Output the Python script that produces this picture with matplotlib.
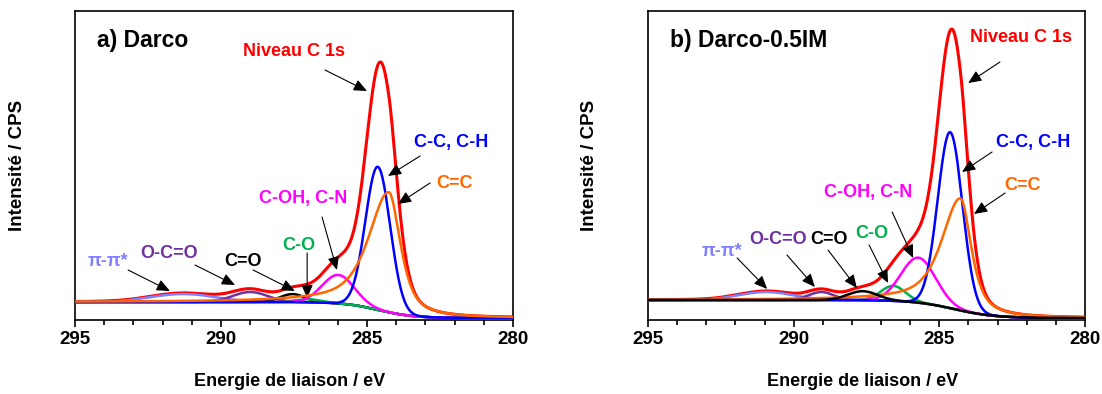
import numpy as np
import matplotlib
matplotlib.use('Agg')
import matplotlib.pyplot as plt
from matplotlib.ticker import MultipleLocator

plt.rcParams['font.family'] = ['Liberation Sans', 'DejaVu Sans']
plt.rcParams['font.weight'] = 'bold'

# component names / colours, same order for both panels
names = ['π-π*', 'O-C=O', 'C=O', 'C-O', 'C-OH, C-N', 'C-C, C-H', 'C=C']
colors = ['#7F7FFF', '#7030A0', 'black', '#00B050', '#FF00FF', '#0000FF', '#FF6600']

# a) Darco : peak parameters (BE in eV, height in CPS a.u.)
a_center = [291.3, 289.0, 287.55, 287.0, 285.98, 284.63, 284.25]
a_height = [8, 10, 8, 3, 28.5, 143, 120]
a_fwhm_hi = [2.6, 1.4, 1.0, 1.0, 1.3, 1.0, 1.64]   # high-BE side
a_fwhm_lo = [2.6, 1.4, 1.0, 1.0, 1.3, 1.0, 0.94]   # low-BE side
a_eta = [0, 0, 0, 0, 0, 0, 0.7]
a_bg = [18, 2, 284.6, 0.6]   # high, low, step centre, step width

# b) Darco-0.5IM
b_center = [290.95, 289.05, 287.63, 286.58, 285.72, 284.63, 284.27]
b_height = [8, 8, 9, 15, 45, 176, 112]
b_fwhm_hi = [2.2, 1.0, 1.2, 1.0, 1.4, 1.0, 1.54]
b_fwhm_lo = [2.2, 1.0, 1.2, 1.0, 1.4, 1.0, 0.86]
b_eta = [0, 0, 0, 0, 0, 0, 0.7]
b_bg = [20, 2, 284.5, 0.7]

x = np.linspace(280, 295, 1501)


def peak(x, c, h, whi, wlo, eta):
    hw = np.where(x >= c, whi / 2, wlo / 2)
    u = (x - c) / hw
    return h * (eta / (1 + u ** 2) + (1 - eta) * np.exp(-np.log(2) * u ** 2))


def step(x, bg):
    hi, lo, x0, w = bg
    return lo + (hi - lo) / (1 + np.exp(-(x - x0) / w))


def arrow(ax, tail, tip):
    ax.annotate('', xy=tip, xytext=tail,
                arrowprops=dict(arrowstyle='-|>,head_length=0.8,head_width=0.35',
                                color='black', lw=0.8, shrinkA=0, shrinkB=0,
                                mutation_scale=10))


fig = plt.figure(figsize=(11.02, 3.94), dpi=100)
ax1 = fig.add_axes([75 / 1102, 74 / 394, 438 / 1102, 309 / 394])
ax2 = fig.add_axes([648 / 1102, 74 / 394, 437 / 1102, 309 / 394])

panels = [
    (ax1, a_center, a_height, a_fwhm_hi, a_fwhm_lo, a_eta, a_bg, 'a) Darco', 'orange_last', -0.112),
    (ax2, b_center, b_height, b_fwhm_hi, b_fwhm_lo, b_eta, b_bg, 'b) Darco-0.5IM', 'black_last', -0.114),
]

for ax, cen, hgt, whi, wlo, eta, bg, title, order, ylx in panels:
    base = step(x, bg)
    comps = [peak(x, cen[i], hgt[i], whi[i], wlo[i], eta[i]) for i in range(len(cen))]
    envelope = base + np.sum(comps, axis=0)
    ax.plot(x, envelope, color='#FF0000', lw=2.2, zorder=2)
    idx = list(range(len(cen)))
    if order == 'black_last':
        idx.remove(2)
        idx.append(2)
    for k, i in enumerate(idx):
        ax.plot(x, base + comps[i], color=colors[i], lw=1.8, zorder=3 + k)

    ax.set_xlim(295, 280)
    ax.set_ylim(0, 309)
    ax.set_yticks([])
    ax.xaxis.set_major_locator(MultipleLocator(5))
    ax.xaxis.set_minor_locator(MultipleLocator(1))
    ax.tick_params(axis='x', which='major', direction='out', length=5, width=1.2,
                   labelsize=13.5, pad=3)
    ax.tick_params(axis='x', which='minor', direction='out', length=3.5, width=1.2)
    for lab in ax.get_xticklabels():
        lab.set_fontweight('bold')
    for s in ax.spines.values():
        s.set_linewidth(1.2)
    ax.set_xlabel('Energie de liaison / eV', fontsize=13, fontweight='bold')
    ax.set_ylabel('Intensité / CPS', fontsize=13.5, fontweight='bold')
    ax.xaxis.set_label_coords(0.49, -0.172)
    ax.yaxis.set_label_coords(ylx, 0.5)
    ax.text(0.05, 0.903, title, transform=ax.transAxes, fontsize=16.5,
            fontweight='bold', va='center', ha='left')

fs = 13
# panel a labels and arrows
ax1.text(287.5, 268, 'Niveau C 1s', color='#FF0000', fontsize=fs, ha='center', va='center')
arrow(ax1, (286.44, 250), (285.0, 229))
ax1.text(282.12, 177, names[5], color=colors[5], fontsize=fs, ha='center', va='center')
arrow(ax1, (283.18, 164), (284.28, 144))
ax1.text(282.02, 137, names[6], color=colors[6], fontsize=fs, ha='center', va='center')
arrow(ax1, (282.84, 137), (283.94, 116))
ax1.text(287.19, 122, names[4], color=colors[4], fontsize=fs, ha='center', va='center')
arrow(ax1, (286.54, 103), (286.03, 50))
ax1.text(287.33, 74, names[3], color=colors[3], fontsize=fs, ha='center', va='center')
arrow(ax1, (287.05, 67), (287.05, 22))
ax1.text(289.25, 59, names[2], color=colors[2], fontsize=fs, ha='center', va='center')
arrow(ax1, (288.90, 50), (287.47, 29))
ax1.text(291.78, 66, names[1], color=colors[1], fontsize=fs, ha='center', va='center')
arrow(ax1, (290.89, 55), (289.52, 35))
ax1.text(293.87, 58, names[0], color=colors[0], fontsize=fs, ha='center', va='center')
arrow(ax1, (293.18, 50), (291.75, 29))

# panel b labels and arrows
ax2.text(282.20, 282, 'Niveau C 1s', color='#FF0000', fontsize=fs, ha='center', va='center')
arrow(ax2, (282.92, 258), (284.01, 237))
ax2.text(281.78, 177, names[5], color=colors[5], fontsize=fs, ha='center', va='center')
arrow(ax2, (283.19, 168), (284.22, 148))
ax2.text(282.13, 134, names[6], color=colors[6], fontsize=fs, ha='center', va='center')
arrow(ax2, (282.74, 127), (283.81, 106))
ax2.text(287.45, 128, names[4], color=colors[4], fontsize=fs, ha='center', va='center')
arrow(ax2, (286.62, 108), (285.90, 62))
ax2.text(287.31, 86, names[3], color=colors[3], fontsize=fs, ha='center', va='center')
arrow(ax2, (287.41, 75), (286.76, 37))
ax2.text(288.79, 81, names[2], color=colors[2], fontsize=fs, ha='center', va='center')
arrow(ax2, (288.82, 70), (287.83, 32))
ax2.text(290.54, 80, names[1], color=colors[1], fontsize=fs, ha='center', va='center')
arrow(ax2, (290.23, 65), (289.27, 33))
ax2.text(292.46, 69, names[0], color=colors[0], fontsize=fs, ha='center', va='center')
arrow(ax2, (291.94, 62), (290.91, 31))

fig.savefig('out.png', dpi=100)
